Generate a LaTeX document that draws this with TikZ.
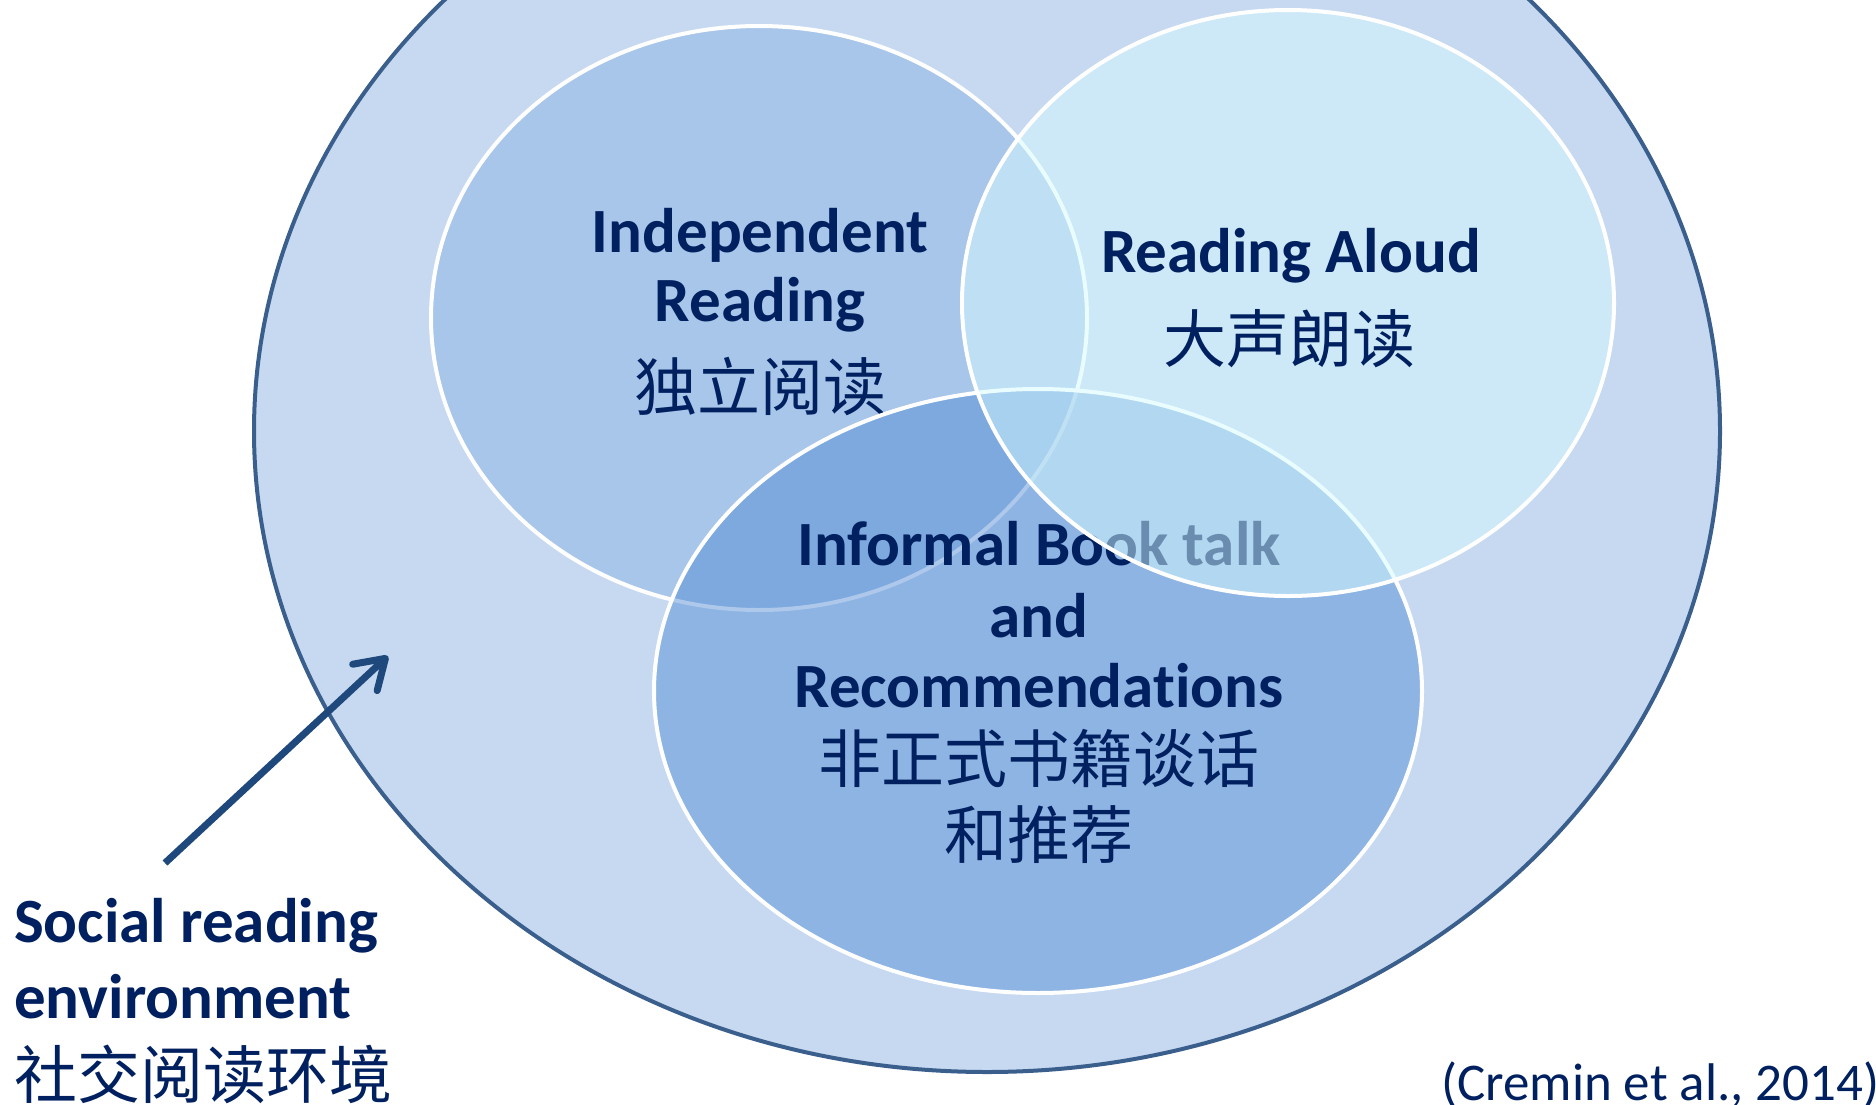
\documentclass[tikz,border=0pt]{standalone}
\usepackage{fontspec}
\setmainfont[Ligatures=NoCommon]{Carlito}
\newfontfamily\cjk{Noto Sans CJK SC}
\usetikzlibrary{arrows.meta}
\definecolor{navy}{HTML}{002060}
\definecolor{bigfill}{HTML}{C6D9F1}
\definecolor{bigdraw}{HTML}{3A5F8D}
\definecolor{indfill}{HTML}{A8C5EA}
\definecolor{inffill}{HTML}{4A87D2}
\definecolor{rafill}{HTML}{D4FAFF}
\definecolor{arrowc}{HTML}{1F497D}
\begin{document}
\begin{tikzpicture}[x=1pt,y=-1pt,
  lbl/.style={text=navy, font=\fontsize{63}{70}\selectfont\bfseries, inner sep=0pt, anchor=base},
  cjklbl/.style={text=navy, font=\fontsize{63}{70}\selectfont\cjk, inner sep=0pt, anchor=base},
  innerell/.style={draw=white, line width=4pt}]
\useasboundingbox (0,0) rectangle (1876,1105);
\clip (0,0) rectangle (1876,1105);
% outer environment
\draw[fill=bigfill, draw=bigdraw, line width=4pt] (987,431) ellipse [x radius=733, y radius=641];
% independent reading
\draw[innerell, fill=indfill] (759,318) ellipse [x radius=328, y radius=292];
\node[lbl] (ir1) at (760,252) {Independent};
\node[lbl] (ir2) at (760,321) {Reading};
\node[cjklbl] (ir3) at (760,410) {独立阅读};
% informal book talk
\draw[innerell, fill=inffill, fill opacity=0.45] (1038,691) ellipse [x radius=384, y radius=302];
\node[lbl] (ib1) at (1039,565) {Informal Book talk};
\node[lbl] (ib2) at (1039,637) {and};
\node[lbl] (ib3) at (1039,707) {Recommendations};
\node[cjklbl] (ib4) at (1039,782) {非正式书籍谈话};
\node[cjklbl] (ib5) at (1039,858) {和推荐};
% reading aloud
\draw[innerell, fill=rafill, fill opacity=0.5] (1288,303) ellipse [x radius=326, y radius=293];
\node[lbl] (ra1) at (1291,272) {Reading Aloud};
\node[cjklbl] (ra2) at (1289,362) {大声朗读};
% social reading environment
\node[lbl, anchor=base west] (sr1) at (14,942) {Social reading};
\node[lbl, anchor=base west] (sr2) at (14,1018) {environment};
\node[cjklbl, anchor=base west] (sr3) at (14,1098) {社交阅读环境};
% citation
\node[text=navy, font=\fontsize{53}{60}\selectfont, inner sep=0pt, anchor=base west] (cite) at (1441,1100) {(Cremin et al., 2014)};
% arrow
\coordinate (astart) at (165,863);
\coordinate (atip) at (388,656);
\draw[arrowc, line width=7pt, -{Straight Barb[length=28pt,width=36pt,round]}] (astart) -- (atip);
\end{tikzpicture}
\end{document}
